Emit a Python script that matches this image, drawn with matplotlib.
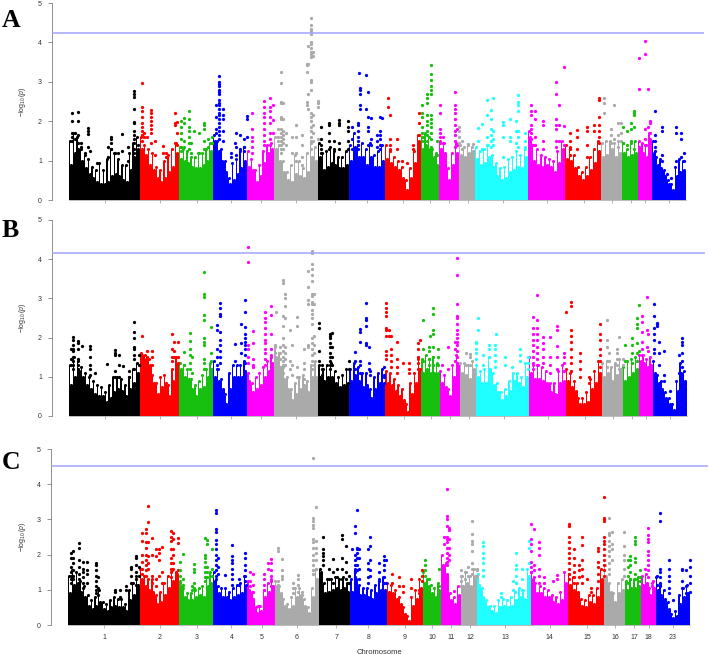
import numpy as np
import matplotlib
matplotlib.use('Agg')
import matplotlib.pyplot as plt

W, H = 709, 655

chrom_names = ['1','2','3','4','5','6','7','8','9','10','11','12','13','14','15','16','17','18','23']
chrom_start = [69,140,179,213,247,274,318,349,385,421,439,459,475,528,565,601,622,638,652]
chrom_end = [140,179,213,247,274,318,349,385,421,439,459,475,528,565,601,622,638,652,686]
chrom_mid = [105,160,197,231,261,296,335,367,403,430,449,468,503,547,584,612,631,645,669]
chrom_col = ['#000000','#ff0000','#17c00f','#0000ff','#ff00ff','#aaaaaa','#000000','#0000ff','#ff0000',
             '#17c00f','#ff00ff','#aaaaaa','#1fffff','#ff00ff','#ff0000','#aaaaaa','#17c00f','#ff00ff','#0000ff']

# cut-off lines
A_cut = 4.25
B_cut = 4.16
C_cut = 4.51

# height of the solid mass along each chromosome
A_fill = [
 [0.9,1.2,1.3,1.0,0.8,0.65,0.55,0.45,0.4,0.4,0.45,0.6,0.65,0.6,0.5,0.45,0.75,1.1,1.3],
 [1.3,1.15,0.9,0.75,0.55,0.45,0.55,0.7,0.85,1.2],
 [1.05,1.0,0.95,0.85,0.8,0.8,0.9,1.0,1.25],
 [1.5,1.25,1.0,0.7,0.4,0.5,0.65,0.8,1.0],
 [0.85,0.75,0.45,0.6,0.95,1.2,1.3],
 [1.3,1.0,0.7,0.5,0.45,0.65,0.6,0.55,0.7,1.1,1.0],
 [1.1,0.75,0.85,0.95,0.9,0.8,0.8,0.9],
 [1.0,1.35,1.1,1.1,0.9,1.1,0.85,0.85,1.0],
 [1.05,0.95,0.85,0.75,0.55,0.25,0.55,0.95,1.5],
 [1.3,1.4,1.3,1.1,0.9],
 [1.3,1.2,0.5,0.9,1.2],
 [1.15,1.1,1.2,1.2],
 [1.05,0.9,0.95,1.1,0.85,0.6,0.5,0.55,0.7,0.75,0.85,0.8,1.1],
 [1.6,1.0,0.9,0.85,0.9,0.85,0.7,0.95,1.3],
 [1.05,1.0,0.8,0.6,0.5,0.6,0.75,0.95,1.25],
 [1.1,1.15,1.3,1.1,1.2],
 [1.2,1.1,1.15,1.2],
 [1.3,1.2,1.1,1.55],
 [1.2,0.9,0.8,0.6,0.4,0.25,0.6,0.7,0.75]]
B_fill = [
 [0.8,1.0,1.15,1.0,0.8,0.7,0.55,0.5,0.5,0.35,0.45,0.6,0.7,0.65,0.5,0.7,0.85,1.1],
 [1.55,1.45,1.3,0.85,0.55,0.75,0.85,0.5,0.9,1.3],
 [1.2,1.0,0.95,0.7,0.5,0.7,0.75,1.0,1.2],
 [1.0,0.9,0.7,0.3,0.7,1.0,1.0,1.0,1.15],
 [0.9,0.6,0.7,0.8,1.0,1.15,1.35],
 [1.5,1.25,0.95,0.7,0.4,0.55,0.7,0.8,0.6,1.0,1.0],
 [1.0,0.9,1.0,1.0,0.85,0.75,0.8,0.85],
 [0.9,1.05,0.9,0.75,0.8,0.45,0.7,0.85,0.85],
 [0.85,0.8,0.65,0.5,0.4,0.1,0.55,0.85,1.2],
 [1.1,1.2,1.1,1.1,1.1],
 [0.85,0.75,0.5,1.0,1.3],
 [1.1,1.05,0.95,1.2],
 [1.0,0.85,0.85,1.2,0.8,0.6,0.4,0.5,0.65,0.9,0.85,0.75,1.0],
 [1.1,0.95,0.95,0.9,0.85,0.6,0.55,0.85,0.9],
 [0.9,0.75,0.65,0.3,0.3,0.35,0.7,0.85,1.1],
 [1.0,1.1,0.9,1.05,1.2],
 [0.9,1.0,1.1,1.2],
 [1.4,1.35,1.25,1.3],
 [1.1,0.85,0.7,0.45,0.3,0.15,0.65,1.1,0.9]]
C_fill = [
 [0.9,1.15,1.2,0.95,0.8,0.55,0.45,0.55,0.65,0.45,0.4,0.5,0.55,0.5,0.5,0.4,0.7,0.85,1.15],
 [1.3,1.1,1.0,0.95,0.6,0.65,0.85,1.05,1.25,1.45],
 [1.1,0.8,0.7,0.7,0.8,0.85,0.8,1.1,1.2],
 [1.25,0.9,0.8,0.8,0.7,0.8,0.85,0.9,1.15],
 [1.0,0.75,0.35,0.4,0.8,0.95,1.1],
 [1.1,0.9,0.55,0.45,0.55,0.8,0.85,0.55,0.35,0.8,1.3],
 [1.5,0.9,0.95,1.0,1.05,1.0,1.05,0.95],
 [0.95,1.3,0.85,0.85,0.8,0.75,0.9,1.0,1.0],
 [0.95,0.9,0.75,0.6,0.3,0.1,0.55,0.75,1.05],
 [1.2,1.05,0.9,0.8,1.0],
 [1.7,1.45,0.7,0.6,0.85],
 [1.1,1.2,1.1,1.4],
 [1.15,0.8,0.5,0.4,0.35,0.5,0.55,0.5,0.55,0.7,0.8,0.75,1.4],
 [1.3,0.9,0.9,0.8,0.8,0.65,0.6,0.7,1.2],
 [1.15,1.0,0.95,0.55,0.5,0.65,0.6,0.8,1.3],
 [1.4,0.95,0.65,0.9,1.0],
 [1.0,1.05,1.05,1.1],
 [1.15,1.2,0.85,1.05],
 [1.0,0.85,0.75,0.45,0.2,0.25,0.6,0.8,0.9]]

# ragged fringe on top of the mass
A_spike = [
 [1.5,1.7,1.6,1.3,1.15,1.05,0.85,0.75,0.95,0.75,1.05,1.3,1.2,1.05,0.9,0.9,1.2,1.45,1.6],
 [1.6,1.4,1.3,1.2,0.85,0.75,1.0,1.15,1.3,1.45],
 [1.35,1.3,1.25,1.1,1.1,1.2,1.2,1.3,1.45],
 [1.65,1.5,1.3,1.0,0.55,0.95,1.05,1.25,1.35],
 [1.25,1.05,0.75,0.9,1.25,1.4,1.45],
 [1.6,1.4,1.0,0.7,0.9,1.15,1.0,0.8,1.2,1.5,1.35],
 [1.45,1.2,1.25,1.35,1.25,1.1,1.1,1.25],
 [1.4,1.7,1.4,1.45,1.3,1.45,1.15,1.25,1.4],
 [1.4,1.3,1.1,1.0,0.85,0.5,0.8,1.25,1.65],
 [1.6,1.7,1.6,1.3,1.2],
 [1.5,1.45,0.8,1.2,1.45],
 [1.4,1.35,1.4,1.35],
 [1.35,1.25,1.3,1.4,1.15,0.95,0.8,0.85,1.05,1.1,1.25,1.15,1.35],
 [1.75,1.4,1.3,1.15,1.1,1.05,1.0,1.25,1.5],
 [1.4,1.35,1.15,0.85,0.7,0.85,1.1,1.3,1.5],
 [1.45,1.5,1.5,1.45,1.5],
 [1.45,1.3,1.45,1.5],
 [1.5,1.45,1.4,1.7],
 [1.5,1.1,1.05,0.75,0.5,0.4,0.85,1.05,1.0]]
B_spike = [
 [1.3,1.5,1.4,1.25,1.1,1.0,0.9,0.8,0.75,0.6,0.8,1.0,1.0,0.95,0.8,1.0,1.2,1.35],
 [1.6,1.55,1.45,1.05,0.85,1.0,1.05,0.8,1.2,1.5],
 [1.35,1.3,1.2,0.95,0.8,0.9,1.05,1.2,1.35],
 [1.4,1.2,0.95,0.55,1.1,1.3,1.3,1.3,1.4],
 [1.1,0.85,1.0,1.1,1.25,1.4,1.55],
 [1.75,1.6,1.3,1.0,0.7,0.85,1.0,1.05,0.9,1.3,1.4],
 [1.3,1.2,1.3,1.35,1.15,1.0,1.05,1.2],
 [1.2,1.35,1.25,1.1,1.1,0.7,1.0,1.1,1.2],
 [1.15,1.1,0.95,0.8,0.7,0.3,0.85,1.1,1.45],
 [1.45,1.55,1.45,1.5,1.35],
 [1.15,1.05,0.7,1.3,1.55],
 [1.35,1.35,1.3,1.4],
 [1.3,1.15,1.2,1.5,1.1,0.85,0.6,0.7,0.9,1.1,1.1,1.0,1.35],
 [1.5,1.3,1.3,1.25,1.15,0.85,0.85,1.15,1.3],
 [1.2,1.1,0.9,0.45,0.45,0.6,0.95,1.15,1.4],
 [1.35,1.4,1.25,1.35,1.45],
 [1.25,1.4,1.45,1.5],
 [1.55,1.55,1.45,1.5],
 [1.4,1.05,0.9,0.6,0.45,0.3,0.9,1.35,1.15]]
C_spike = [
 [1.4,1.55,1.5,1.25,1.1,0.85,0.7,0.8,1.0,0.65,0.6,0.7,0.8,0.75,0.75,0.6,1.0,1.2,1.4],
 [1.6,1.4,1.3,1.3,0.85,0.95,1.2,1.4,1.55,1.5],
 [1.25,1.05,0.9,0.9,1.0,1.05,1.1,1.35,1.5],
 [1.5,1.1,1.05,1.05,0.95,1.05,1.15,1.2,1.4],
 [1.25,0.95,0.5,0.55,1.0,1.2,1.3],
 [1.25,1.1,0.75,0.6,0.8,1.05,1.05,0.75,0.5,1.05,1.6],
 [1.6,1.2,1.3,1.3,1.35,1.3,1.35,1.2],
 [1.3,1.6,1.15,1.05,1.05,1.0,1.15,1.3,1.35],
 [1.2,1.15,1.0,0.8,0.5,0.25,0.8,1.0,1.3],
 [1.5,1.3,1.15,1.05,1.2],
 [2.0,1.75,0.9,0.8,1.1],
 [1.4,1.5,1.4,1.6],
 [1.45,1.05,0.7,0.55,0.55,0.7,0.75,0.7,0.8,0.95,1.05,1.0,1.6],
 [1.5,1.2,1.1,1.05,1.0,0.85,0.8,0.95,1.5],
 [1.45,1.35,1.2,0.75,0.7,0.85,0.85,1.05,1.6],
 [1.7,1.2,0.9,1.2,1.3],
 [1.25,1.3,1.3,1.35],
 [1.4,1.45,1.05,1.25],
 [1.35,1.15,1.0,0.65,0.3,0.4,0.85,1.05,1.15]]

# single points above the mass: (position, -log10 p values at that position)
A_hits = [
 (72,2.2,2.0,1.7,1.6,1.5),(75,1.7,1.55),(78,2.23,2.0,1.65,1.45),(81,1.45,1.35),(85,1.2),(88,1.83,1.75,1.68,1.35),(90,1.25),(97,0.95),
 (108,1.35,1.1),(111,1.6,1.55,1.45,1.3),(115,1.2),(118,1.2),(122,1.67,1.25),(128,1.35,1.0),(134,2.77,2.7,2.62,2.3,1.98,1.95,1.75,1.65,1.55,1.45,1.3,1.2),(138,1.4),
 (141.5,2.98,2.35,2.25,2.1,1.95,1.85,1.75,1.65,1.5),(144,1.7,1.6),(147,1.6),(151,2.28,2.2,2.1,2.0,1.9,1.8,1.7,1.45),(155,1.5,1.15),(163,1.37,1.2),(166,1.2,1.1),
 (174.5,2.2,1.45),(175,1.95,1.9),(177,1.98,1.7,1.4),
 (180.5,2.0,1.85,1.7,1.55,1.35,1.25),(184,2.08,1.95,1.5,1.35),(188.5,2.25,2.05,1.85,1.75,1.6,1.45,1.3),(190.7,1.45,1.2),(194,1.75),(198.7,1.7,1.2),(204,1.95,1.9,1.8,1.5,1.3),(208,1.55,1.35),(212,1.6,1.45),
 (216,2.4,2.1,1.8,1.7),(218.5,3.15,3.0,2.95,2.9,2.8,2.75,2.7,2.55,2.45,2.4,2.3,2.2,2.15,2.05,1.95,1.85,1.75,1.65,1.55),(222.5,2.3,2.15,2.05,1.75,1.5),(230.7,1.2,1.1),(235,1.45),(236,1.7,1.35,1.15),(240,1.65,1.3),(244,1.55,1.35,1.25),(246.7,2.13,2.05,1.6),
 (252,2.22,1.8,1.6,1.5,1.35,1.2),(263.5,2.52,2.35,2.2,2.1,1.95,1.8,1.65,1.5,1.4),(270,2.6,2.35,2.25,2.1,1.95,1.7,1.55,1.4),(273,2.4,2.03,1.7),
 (278,1.8,1.6,1.5),(281,3.25,2.98,2.5,2.45,2.1,2.05,1.8,1.7,1.6,1.5,1.4,1.3,1.2),(283,2.45,2.05,1.75,1.65,1.55,1.45,1.3),(285.7,1.7,1.4),(292,1.6,1.2),(296,1.9,1.6,1.2,1.0),(302,1.65,1.4,1.1,0.9),
 (306.7,3.45,3.43,3.25,2.5,2.4),(308,3.9,3.45,2.7,2.3),(311.3,4.63,4.43,4.35,4.28,4.22,4.0,3.95,3.85,3.75,3.7,3.62,3.05,3.0,2.8,2.2,2.1,2.0,1.85,1.75,1.6,1.45,1.3),(312.7,3.75,3.65,2.15,1.9,1.7,1.5),(318,2.52,2.45,2.35,1.55),
 (320.7,1.85,1.55,1.4,1.3,1.2),(329,1.95,1.9,1.7,1.5,1.3),(334,1.5,1.3),(338.7,2.03,1.95,1.9,1.45,1.3),(347.7,2.0,1.85,1.75,1.5,1.3),
 (352,1.85,1.55,1.3),(358,1.95,1.9,1.75,1.6,1.5,1.4,1.3),(358.7,3.23),(360,2.85,2.78,2.7,2.4,2.3),(365.7,3.18,2.3),(367.7,2.73,2.1,1.85,1.75,1.4),(371,2.07,1.55,1.4),(376.7,1.65,1.5,1.35),(380,2.1,1.75,1.65,1.55,1.4,1.3),(381.7,2.07),
 (387.7,2.58,2.35),(389.7,2.15,1.55,1.4,1.25),(397,1.55,1.3),(401.7,1.0),(407,0.95),(413,1.4,1.3),(419,2.2,1.95,1.65),
 (422,2.4,2.2,2.1,1.85,1.7,1.6,1.5),(426.7,2.7,2.6,2.45,2.15,2.0,1.9,1.75,1.65,1.5),(431.3,3.43,3.2,3.05,2.9,2.8,2.7,2.15,2.05,1.95,1.85,1.7,1.55,1.35),(437,1.5,1.15),
 (440,2.4,2.2,1.8,1.7,1.6,1.45),(443.3,1.6,1.45),(455.3,2.73,2.4,2.3,2.2,2.05,1.9,1.75,1.65,1.5,1.35),(457.3,1.8,1.4),
 (459.3,1.85,1.75,1.6,1.45),(462.3,1.5,1.3),(468,1.42),(473.3,1.42,1.25),
 (477.7,1.82,1.5),(482.3,1.92,1.3),(487.3,2.55,2.15,1.6,1.4),(491.3,2.28,2.05,1.8,1.65,1.5,1.35),(492.7,2.58,1.75,1.55,1.4),(503.3,1.98,1.9,1.6,1.1),(510,2.05,1.6,1.5),(516,2.0,1.75,1.45),(518.3,2.67,2.5,2.4,2.25,1.75,1.6,1.35),(525,1.7,1.5,1.3),
 (531.3,2.4,2.25,2.15,1.9,1.8,1.7,1.55,1.4,1.2),(535.3,2.27,2.05,1.6,1.4),(542.7,2.0,1.9,1.5,1.3),(556,3.0,2.7,2.05,1.9,1.8,1.5,1.35),(558.7,2.4,1.9,1.5),(564.3,3.38,1.87,1.4),
 (570,1.7,1.5,1.3,1.15),(577.3,1.77,1.6,1.3),(586.7,1.85,1.75,1.4,1.1),(594.3,1.9,1.75),(599,2.6,2.55,2.1,1.9,1.75,1.6,1.45),
 (604.3,2.6,2.45,2.2),(610.7,1.8,1.65,1.45),(614,2.4,1.55),(617.7,1.95,1.65,1.35),(620.7,1.95,1.7,1.5),
 (623.3,1.85,1.45),(627.3,1.75,1.4),(630.7,1.95,1.8,1.5),(634.3,2.25,2.2,2.15,1.85,1.3),
 (639.3,3.6,2.82,1.35),(645,4.04,3.7,1.8,1.55,1.4),(647.7,2.82,1.85),(650,2.0,1.95,1.7,1.5),
 (655.3,2.25,1.65,1.5,1.35,1.25),(662,1.85,1.75,1.15,1.0),(666.7,0.65),(671,0.55),(675.7,1.85,1.7,1.0),(680.7,1.7,1.55,1.1),(684,1.2,1.0)]
B_hits = [
 (71,1.7,1.45,1.3),(73.3,2.02,1.95,1.8,1.7,1.65,1.5,1.4,1.3,1.2),(78.3,1.92,1.85,1.7,1.45,1.3,1.2),(81.7,1.78),(90,1.78,1.7,1.5,1.3,1.2,1.05),(95,1.1),
 (107.3,1.33),(115,1.68,1.6,1.55,1.15,1.0),(119,1.55,1.3,1.0),(122.7,1.28),(129.3,1.15,1.0),(134.3,2.4,2.15,2.0,1.75,1.7,1.55,1.45,1.2),(139.3,1.55,1.3),
 (142.3,2.03),(147,1.67,1.5),(151.7,1.67,1.5,1.3),(172,2.1,1.7,1.5,1.4),(174,1.88,1.65,1.5),(177.7,1.9,1.5,1.35),
 (184,1.62,1.3),(189.3,2.13,1.92,1.7,1.55,1.35,1.2),(191.7,1.5,1.1),(204,3.68,3.1,3.03,2.57,2.45,2.0,1.9,1.8,1.45,1.35,1.2),(211,2.28,1.6,1.4,1.2),
 (216.7,2.33,2.2,1.7,1.5,1.3,1.2),(219.3,2.87,2.75,2.6,2.55,2.15,1.95,1.8,1.65,1.5,1.35),(234.3,1.83,1.4),(241,2.35,1.85,1.6),(244.3,2.95,2.65,2.28,2.1,2.0,1.9,1.8,1.7,1.55,1.35),(247.3,4.3,3.92,1.8,1.7,1.5,1.35),
 (252.7,2.18,1.85,1.45,1.3,1.25),(265,2.65,2.5,2.4,2.25,2.1,1.95,1.85,1.7,1.6,1.45,1.3),(270.7,2.8,2.58,2.1,1.7,1.5,1.35),(274.3,1.8,1.6,1.4),
 (276,2.65),(279.3,1.75,1.6,1.45,1.25),(282.7,3.47,3.4,2.55,2.3,2.0,1.8,1.65,1.5,1.4,1.25,1.1),(285,3.1,3.02,2.8,2.5,1.75,1.6,1.45,1.3),(290,2.2,1.4,1.2),(291.7,1.8,1.3,1.05),(296.7,2.53,2.3,1.25,1.0),(304,1.72,1.35,1.2,0.95),
 (307.3,3.7,3.3,2.95,2.85,1.8,1.75),(312,4.22,4.15,3.87,3.75,3.6,3.45,3.1,3.05,2.9,2.85,2.7,2.6,2.5,2.35,2.0,1.85,1.7,1.55,1.4,1.2),(313.3,3.1,2.85,2.05,1.8,1.6,1.3),(318.3,2.37,2.25,1.65,1.4),
 (321.7,1.3,1.2,1.05),(330,2.1,2.05,2.0,1.85,1.75,1.6,1.5,1.4,1.3,1.2),(331.7,2.13,1.75,1.5,1.3),(348.3,1.4,1.2),
 (354.7,1.63,1.4,1.2),(359.3,2.22,2.15,1.9),(360,1.4,1.3,1.1),(366,2.87,2.5,2.45,2.3,1.85,1.8),(368.3,1.75,1.35,1.2),(370,1.15,1.05),(383.3,1.25,1.05,1.0),(385.7,2.87,2.75,2.65,2.55,2.25,2.2,2.05,1.65,1.55,1.45),
 (388.3,2.2,2.05),(390.7,2.05,1.7,1.55,1.4,1.25),(396.3,1.9,1.45,1.25,1.1),(402.7,1.35),(408.3,1.35,1.2,1.1),(417.7,1.85,1.7,1.5,1.35,1.2),(419.3,1.95),
 (422.3,2.45,1.7,1.4),(428.3,1.75,1.65,1.45,1.3),(429.3,2.05),(432.3,2.75,2.6,2.2,2.1,1.75,1.5,1.3),(437.3,1.7,1.5,1.3),
 (441,1.3),(447.3,1.75,1.2),(454.3,1.9,1.7,1.4),(456.7,4.02,3.6,2.85,2.55,2.5,2.35,2.2,2.1,2.0,1.9,1.8,1.65,1.5,1.35),
 (465,1.6,1.3),(469,1.58,1.5,1.3),(475.7,1.9,1.85,1.7,1.6,1.45),
 (477.3,2.5,2.2),(482.7,1.55,1.3),(488.3,1.82,1.7,1.5,1.2),(494,1.82,1.7,1.55,1.4,1.25),(495.3,2.08),(504,1.5,1.3),(511,1.25),(519.3,1.7,1.55,1.4),(527.7,1.5,1.35,1.2),
 (532.3,2.53,2.25,2.1,1.95,1.8,1.65,1.5,1.35,1.2),(536.7,3.08,2.45,2.25,2.1,1.95,1.75,1.6,1.45,1.3),(542.7,2.02,1.85,1.7,1.5,1.35),(549,2.02,1.5,1.3,1.1),(556.7,2.3,2.2,1.78,1.5,1.2),(563.3,1.6,1.5,1.35,1.15),(565.7,2.65),
 (570.7,2.9,2.8,2.2,2.05,1.9,1.7,1.5,1.35,1.15),(579,1.6,1.4,1.2,1.0),(588.3,1.0,0.85),(599.3,2.35,2.1,1.95,1.7,1.55,1.4,1.25),
 (605.7,2.45,1.95,1.75,1.4,1.25),(608.3,1.6,1.4),(615.7,1.7,1.6,1.45,1.3),(617.7,2.02,1.2),(621.7,1.45,1.3),
 (624,1.8,1.4),(631,2.0,1.8,1.6,1.35),(635.7,2.5,2.35,2.25,1.85,1.6,1.4),(637.7,2.82,1.65),
 (640.7,2.55,2.4,2.15,1.9,1.7,1.55),(646,3.03,2.2,1.75),(646.7,2.1,1.65),(653.3,2.85,2.55,2.25,2.1,1.95,1.7,1.6),
 (656,2.38,2.35,2.3),(657.7,1.9,1.6,1.3),(662.7,1.65,1.05,0.9),(669.3,0.65),(678.3,1.55,1.1),(680.7,2.0,1.9,1.8,1.6,1.4,1.25,1.05),(684.3,0.7)]
C_hits = [
 (71.7,2.05,1.9,1.65,1.5,1.4,1.3,1.2),(74,2.1,1.9,1.75,1.55,1.4,1.3),(80,2.33,2.2,1.85,1.65,1.45,1.3,1.2),(84,1.8,1.6,1.5,1.35,1.2,1.05),(88,1.78,1.55,1.45,1.2),(96.8,1.75,1.7,1.55,1.4,1.25,1.1,1.0,0.9),(99,1.35,1.05,0.85),
 (115.6,1.0,0.95),(120,1.0,0.8),(126.5,1.1,1.0),(131.5,1.65,1.6,1.4,1.2),(136.5,1.97,1.9,1.7,1.5,1.3,1.15),(139,1.65,1.4),
 (142,2.6,2.4,2.0,1.8,1.6,1.45),(146,2.72,2.62,2.35,2.2,2.0,1.85,1.7,1.55,1.4),(148.4,3.38,2.93,2.37,1.95,1.75,1.6),(152.7,2.47,2.0,1.4,1.2),(156.3,2.15,1.95,1.3,1.1),(159.3,2.15,2.05,1.85,1.4),(162.6,2.22,1.5,1.2),(171,2.67,2.5,2.4,2.15,1.9,1.75,1.6,1.5,1.35),(173.5,2.62,2.45,2.15,2.0,1.75,1.6),(178,2.47,2.32,1.55),
 (180.1,1.8,1.55,1.4,1.2),(183.4,2.02,1.3,1.15),(191.7,1.1,1.0),(194.3,1.72,1.6,1.5,1.2,1.05),(205,2.48,2.0,1.9,1.8,1.65,1.5,1.35,1.25),(207.3,2.42,2.3,1.65,1.5,1.35),(212,2.15,1.6,1.4),
 (215.3,3.26,3.18,2.72,2.65,2.42,2.3,2.15,2.0,1.85,1.7,1.55,1.4,1.3),(218,1.9,1.65,1.45),(224.5,1.42),(232,2.27,1.95,1.85,1.75,1.6,1.45,1.3,1.15),(239,1.3,1.15),(244.6,2.05,1.9,1.7,1.55,1.4,1.25),
 (249,1.5,1.25,1.1),(252,1.45,1.15,0.95),(257,0.55),(263,1.45,1.3,1.15,1.0),(267.3,1.75,1.6),(270.5,1.87,1.75,1.55,1.4,1.25,1.1),
 (277.3,2.2,2.1,1.25,1.15),(281,1.87,1.55,1.4,1.3),(292.6,1.2,1.05,0.9),(297,1.43,1.3,1.15,0.95),(301,0.95,0.85),(312,3.05,2.95,2.85,2.75,2.45,2.35,2.2,2.0,1.85,1.7,1.55,1.45),(312.3,4.75),(315,3.35,2.4,2.2,2.05,1.85,1.6),
 (321.5,2.5,2.15,2.05,1.95,1.85,1.7),(327.5,1.6,1.3),(331.5,1.87,1.5,1.2),(335.8,1.6,1.35),(341,2.55,2.45,1.9,1.6,1.3),(344.3,2.25,1.8,1.5,1.3),(347.5,1.4,1.2),
 (351,2.15),(353.8,2.8,2.6,2.0,1.85,1.7,1.5,1.35,1.2),(355.5,3.28,2.2,2.15,2.05,1.9,1.7,1.55),(357.8,2.15,1.9,1.6,1.3),(366.8,2.15,1.75,1.6,1.35,1.2),(368.8,2.5,2.25,1.85,1.55,1.4),(377.7,1.75,1.5,1.25),(382.8,1.95,1.85,1.7,1.55,1.35,1.2),(384.4,1.85,1.2),
 (390.6,1.45,1.2),(397,1.35,1.1),(401.6,1.1,0.95),(409.2,1.3,1.05),(417.5,1.0,0.9),(420.2,1.55,1.4,1.25),
 (422.9,1.85,1.7,1.55,1.4,1.2),(427.5,1.3,1.1),(437.5,1.6,1.1),
 (441.9,2.5,2.3),(444.5,3.85,3.1,3.0,2.8,2.5,2.45,2.35,2.2,2.05,1.9,1.8,1.7),(446.9,2.75,2.7,2.45,2.2,2.0,1.85),(451.9,0.98),(459.1,1.55,1.4,1.25,1.1),
 (462.4,1.5,1.3),(465.8,1.65,1.4),(469.8,2.95,2.58,2.4,2.3,2.1,1.75,1.6,1.45),(475,1.6,1.55,1.4),
 (480.7,2.37,2.25,2.05,1.9,1.75,1.55,1.4),(498.3,0.9,0.8),(510.6,1.25,1.0),(513.2,2.05,1.7,1.6,1.4,1.2),(519.6,1.6,1.3,1.0),(526.6,2.4,2.2,1.75),(528.2,2.88,2.45,2.3,2.1,1.8,1.65,1.5),
 (531.3,2.73,1.7,1.55,1.35),(536.2,2.35,2.2,2.0,1.6,1.4,1.2),(541.5,1.35,1.2),(549.8,1.25),(554.5,1.42,1.3),(566,2.88,2.8,2.5,2.35,2.2,2.05,1.9,1.75,1.6,1.45,1.3),
 (571.4,2.15,1.9,1.7,1.5,1.35,1.2),(576,1.7,1.55,1.35),(578.7,2.5,2.28,1.85,1.6,1.4,1.2),(583.7,1.3),(588,1.05,0.95),(595.3,2.2,2.1,1.8,1.65,1.45,1.25),(601,3.63,3.05,3.0,2.95,2.5,2.4,2.3,2.15,2.0,1.85,1.7,1.55,1.4),
 (606,3.05,2.6,2.55,2.4,2.25,2.1,1.95,1.75,1.6,1.45),(608.7,2.65,2.3,2.15,1.85),(620.3,2.65,2.25,2.0,1.85,1.6,1.4),(624.6,1.85,1.65,1.4,1.2),
 (626.3,1.95,1.85,1.7,1.5,1.3),(631.9,2.5,2.4,2.3,1.9,1.8,1.45,1.3),(636.8,1.55,1.35,1.25),
 (641.8,1.6),(644.5,2.75,2.55,2.45,2.35,2.1,2.0,1.85,1.7,1.55,1.35),(648.4,1.2,1.1),(653.4,1.4,1.15),
 (656.7,3.18,2.95,1.6,1.5,1.35,1.2,1.1),(665,1.85,1.6,1.4,1.25,1.05,0.9),(669.3,0.7),(678.2,1.6,1.55,1.25,1.05),(681.9,1.55,1.1,0.9),(685.8,1.85,1.65,1.4,1.2,0.95)]

plt.rcParams['font.family'] = ['Liberation Sans', 'DejaVu Sans']
plt.rcParams['mathtext.fontset'] = 'custom'
plt.rcParams['mathtext.rm'] = 'Liberation Sans'
plt.rcParams['mathtext.it'] = 'Liberation Sans:italic'

fig = plt.figure(figsize=(W/100, H/100), dpi=100)


def draw_panel(fill, spike, hits, cut, box, letter, letter_y, show_names):
    left, right, top, bottom = box
    ax = fig.add_axes([left/W, 1-bottom/H, (right-left)/W, (bottom-top)/H])
    ax.set_facecolor('none')
    for i in range(len(chrom_names)):
        n = len(fill[i])
        step = (chrom_end[i]-chrom_start[i])/n
        xs = chrom_start[i]+step*(np.arange(n)+0.5)
        ax.bar(xs, fill[i], width=step, color=chrom_col[i], linewidth=0, zorder=2)
        ax.scatter(xs, fill[i], s=5, color=chrom_col[i], linewidths=0, zorder=3, clip_on=False)
        # fringe sits between the mass columns
        sx = chrom_start[i]+step*(np.arange(n)+0.15)
        ax.bar(sx, spike[i], width=1.3, color=chrom_col[i], linewidth=0, zorder=2)
        ax.scatter(sx, spike[i], s=5, color=chrom_col[i], linewidths=0, zorder=3, clip_on=False)
    for col in hits:
        i = np.searchsorted(chrom_end, col[0])
        ax.scatter([col[0]]*(len(col)-1), col[1:], s=5.5, color=chrom_col[i], linewidths=0, zorder=3, clip_on=False)
    ax.axhline(cut, color='#a3a3ff', linewidth=1.1, zorder=4)

    ax.set_xlim(52, 704)
    ax.set_ylim(0, 5)
    ax.spines['top'].set_visible(False)
    ax.spines['right'].set_visible(False)
    ax.spines['left'].set_linewidth(0.5)
    ax.spines['left'].set_color('#666666')
    ax.spines['bottom'].set_linewidth(0.4)
    ax.spines['bottom'].set_color('#888888')
    ax.spines['bottom'].set_bounds(chrom_start[0], chrom_end[-1])
    ax.set_yticks([0, 1, 2, 3, 4, 5])
    ax.tick_params(axis='y', labelsize=5, length=3.2, width=0.5, color='#666666', labelcolor='#333333', pad=4)
    ax.set_xticks(chrom_mid)
    ax.tick_params(axis='x', length=2.2, width=0.4, color='#777777', labelcolor='#333333', labelsize=5, pad=4)
    if show_names:
        ax.set_xticklabels(chrom_names)
    else:
        ax.set_xticklabels([])
    fig.text(22/W, 1-(top+bottom)/2/H, r'$-\log_{10}(p)$', rotation=90, fontsize=5, color='#333333', ha='center', va='center')
    fig.text(2/W, 1-letter_y/H, letter, family='Liberation Serif', fontweight='bold', fontsize=18.5, color='black', ha='left', va='baseline')
    return ax


draw_panel(A_fill, A_spike, A_hits, A_cut, (52, 704, 3, 200), 'A', 27, False)
draw_panel(B_fill, B_spike, B_hits, B_cut, (52, 705, 220, 416), 'B', 237, False)
draw_panel(C_fill, C_spike, C_hits, C_cut, (51, 708, 449, 625), 'C', 469, True)
fig.text(379/W, 1-652/H, 'Chromosome', fontsize=5.5, color='#333333', ha='center', va='center')

fig.savefig('out.png', dpi=100, facecolor='white')
